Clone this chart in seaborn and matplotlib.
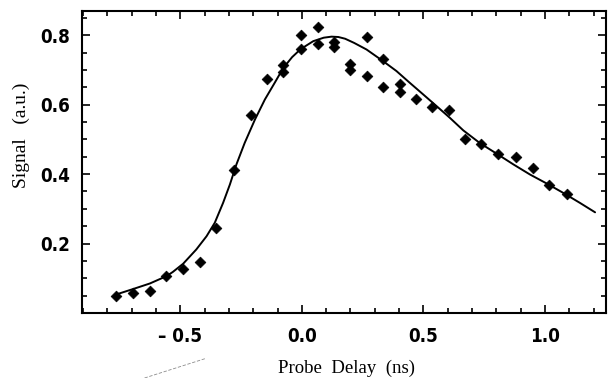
import pandas as pd
import matplotlib
matplotlib.use('Agg')
from matplotlib import pyplot as plt
from matplotlib.ticker import MultipleLocator
import seaborn as sns

# measured points (probe delay in ns, signal in a.u.)
delay = [-0.765, -0.694, -0.625, -0.557, -0.488, -0.420, -0.351, -0.280, -0.210, -0.143,
         -0.077, -0.077, -0.005, -0.005, 0.065, 0.065, 0.132, 0.132, 0.199, 0.199,
         0.270, 0.270, 0.335, 0.335, 0.403, 0.403, 0.469, 0.536, 0.605, 0.671,
         0.737, 0.808, 0.879, 0.949, 1.016, 1.089]
signal = [0.050, 0.058, 0.063, 0.106, 0.127, 0.146, 0.245, 0.413, 0.569, 0.675,
          0.713, 0.694, 0.800, 0.761, 0.823, 0.775, 0.780, 0.767, 0.716, 0.701,
          0.795, 0.682, 0.733, 0.650, 0.661, 0.636, 0.617, 0.594, 0.586, 0.500,
          0.488, 0.458, 0.449, 0.418, 0.370, 0.344]

# fitted curve
fit_delay = [-0.765, -0.694, -0.625, -0.557, -0.531, -0.488, -0.434, -0.392, -0.358, -0.324,
             -0.296, -0.269, -0.235, -0.193, -0.152, -0.110, -0.077, -0.040, -0.005, 0.047,
             0.090, 0.122, 0.150, 0.178, 0.215, 0.266, 0.335, 0.389, 0.444, 0.500,
             0.554, 0.609, 0.664, 0.733, 0.801, 0.870, 0.938, 1.007, 1.075, 1.144, 1.206]
fit_signal = [0.053, 0.069, 0.085, 0.106, 0.118, 0.142, 0.183, 0.221, 0.260, 0.317,
              0.370, 0.428, 0.490, 0.557, 0.615, 0.665, 0.705, 0.737, 0.760, 0.783,
              0.793, 0.796, 0.795, 0.790, 0.778, 0.759, 0.725, 0.697, 0.663, 0.629,
              0.596, 0.562, 0.526, 0.489, 0.459, 0.428, 0.399, 0.373, 0.346, 0.317, 0.290]

xticks = [-0.5, 0.0, 0.5, 1.0]
xtick_labels = ['\u2013 0.5', '0.0', '0.5', '1.0']
yticks = [0.2, 0.4, 0.6, 0.8]
ytick_labels = ['0.2', '0.4', '0.6', '0.8']

points = pd.DataFrame({'delay': delay, 'signal': signal})
fit = pd.DataFrame({'delay': fit_delay, 'signal': fit_signal})

sns.set_style('ticks')
plt.rcParams['font.family'] = ['DejaVu Sans']
plt.rcParams['text.color'] = 'black'
plt.rcParams['axes.labelcolor'] = 'black'
plt.rcParams['xtick.color'] = 'black'
plt.rcParams['ytick.color'] = 'black'

fig = plt.figure(figsize=(6.15, 3.78), dpi=100)
ax = fig.add_axes([0.133, 0.172, 0.852, 0.799])

sns.lineplot(data=fit, x='delay', y='signal', ax=ax, color='black', linewidth=1.4,
             sort=False, estimator=None)
sns.scatterplot(data=points, x='delay', y='signal', ax=ax, marker='D', color='black',
                s=30, edgecolor='black', linewidth=0.5, zorder=3)

ax.set_xlim(-0.905, 1.25)
ax.set_ylim(0, 0.87)
ax.set_xticks(xticks)
ax.set_xticklabels(xtick_labels, fontweight='bold', fontsize=13.5, fontstretch='condensed')
ax.set_yticks(yticks)
ax.set_yticklabels(ytick_labels, fontweight='bold', fontsize=13.5, fontstretch='condensed')
ax.xaxis.set_minor_locator(MultipleLocator(0.1))
ax.yaxis.set_minor_locator(MultipleLocator(0.05))
ax.tick_params(which='both', direction='in', top=True, right=True, width=1.2, color='black')
ax.tick_params(which='major', length=6)
ax.tick_params(which='minor', length=3.5)
ax.tick_params(axis='x', which='major', pad=10)
ax.tick_params(axis='y', which='major', pad=8.5)
for s in ax.spines.values():
    s.set_linewidth(1.5)
    s.set_color('black')

serif = ['Liberation Serif', 'DejaVu Serif']
ax.set_xlabel('Probe  Delay  (ns)', family=serif, fontsize=13.5)
ax.set_ylabel('Signal   (a.u.)', family=serif, fontsize=14)
ax.xaxis.set_label_coords(0.506, -0.182)
ax.yaxis.set_label_coords(-0.116, 0.587)
ax.xaxis.label.set_va('center')
ax.yaxis.label.set_va('center')

# faint scan stroke below the axis
fig.add_artist(plt.Line2D([0.235, 0.335], [0.0, 0.052], transform=fig.transFigure,
                          color='0.55', linewidth=0.6, linestyle=(0, (4, 2))))

fig.savefig('out.png', dpi=100)
